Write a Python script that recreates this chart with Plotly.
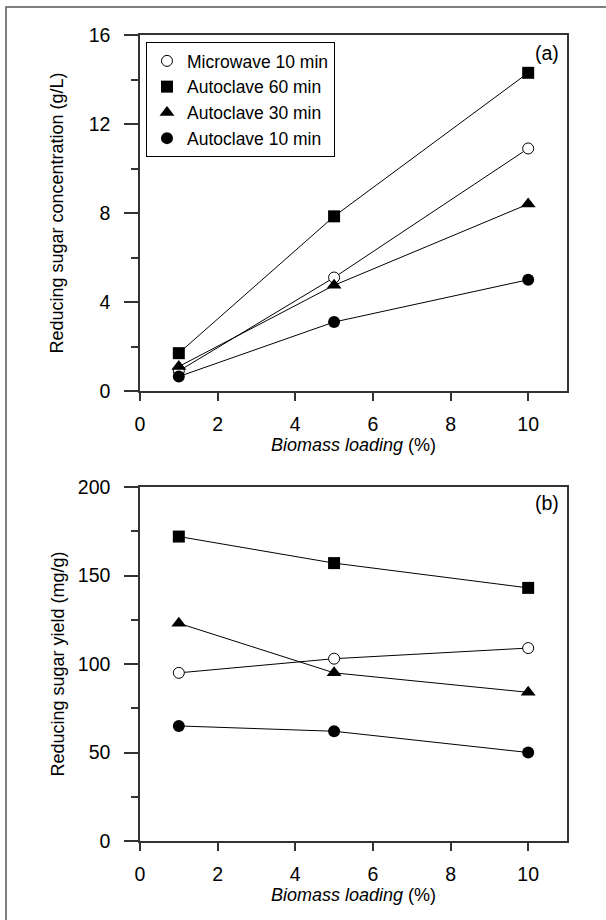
import plotly.graph_objects as go

# ---------------- data ----------------
loading = [1, 5, 10]
series_names = ["Microwave 10 min", "Autoclave 60 min", "Autoclave 30 min", "Autoclave 10 min"]

conc_microwave10 = [0.9, 5.1, 10.9]
conc_autoclave60 = [1.7, 7.85, 14.3]
conc_autoclave30 = [1.1, 4.75, 8.4]
conc_autoclave10 = [0.65, 3.1, 5.0]

yield_microwave10 = [95, 103, 109]
yield_autoclave60 = [172, 157, 143]
yield_autoclave30 = [123, 95, 84]
yield_autoclave10 = [65, 62, 50]

x_ticks = [0, 2, 4, 6, 8, 10]
conc_ticks = [0, 4, 8, 12, 16]
yield_ticks = [0, 50, 100, 150, 200]

# ---------------- styling ----------------
FONT = "Liberation Sans, Arial, sans-serif"
W, H = 606, 920
ML, MR, MT, MB = 140, 39, 35, 79
PH = H - MT - MB
PW = W - ML - MR

def py(pix):  # pixel y -> paper y
    return 1 - (pix - MT) / PH

def px(pix):  # pixel x -> paper x
    return (pix - ML) / PW

styles = [
    dict(symbol="circle", size=11, color="white", line=dict(color="black", width=1)),
    dict(symbol="square", size=12, color="black", line=dict(color="black", width=0)),
    dict(symbol="triangle-up", size=13, color="black", line=dict(color="black", width=0)),
    dict(symbol="circle", size=12, color="black", line=dict(color="black", width=0)),
]

fig = go.Figure()
conc = [conc_microwave10, conc_autoclave60, conc_autoclave30, conc_autoclave10]
yld = [yield_microwave10, yield_autoclave60, yield_autoclave30, yield_autoclave10]

# connecting lines (drawn first, under markers)
for name, vals in zip(series_names, conc):
    fig.add_trace(go.Scatter(x=loading, y=vals, mode="lines", name=name,
                             line=dict(color="black", width=1),
                             xaxis="x", yaxis="y", showlegend=False, hoverinfo="skip"))
for name, vals in zip(series_names, yld):
    fig.add_trace(go.Scatter(x=loading, y=vals, mode="lines", name=name,
                             line=dict(color="black", width=1),
                             xaxis="x2", yaxis="y2", showlegend=False, hoverinfo="skip"))
# markers
for name, vals, st in zip(series_names, conc, styles):
    fig.add_trace(go.Scatter(x=loading, y=vals, mode="markers", name=name, marker=st,
                             xaxis="x", yaxis="y", showlegend=True))
for name, vals, st in zip(series_names, yld, styles):
    fig.add_trace(go.Scatter(x=loading, y=vals, mode="markers", name=name, marker=st,
                             xaxis="x2", yaxis="y2", showlegend=False))

axis_common = dict(showline=True, linecolor="#333333", linewidth=1.5, mirror=True,
                   showgrid=False, zeroline=False, ticks="outside", tickcolor="#333333",
                   tickwidth=1.5, tickfont=dict(family=FONT, size=19.5, color="black"))

xcommon = dict(axis_common, range=[0, 11], tickvals=x_ticks, ticklen=8,
               ticklabelstandoff=7,
               title=dict(text="<i>Biomass loading</i> (%)",
                          font=dict(family=FONT, size=18, color="black"), standoff=3))

fig.update_layout(
    width=W, height=H,
    margin=dict(l=ML, r=MR, t=MT, b=MB),
    paper_bgcolor="white", plot_bgcolor="white",
    font=dict(family=FONT, color="black"),
    xaxis=dict(xcommon, domain=[0, 1], anchor="y"),
    xaxis2=dict(xcommon, domain=[0, 1], anchor="y2"),
    yaxis=dict(axis_common, domain=[py(391), 1], anchor="x", range=[0, 16],
               tickvals=conc_ticks, ticklen=14, ticklabelstandoff=10,
               minor=dict(dtick=2, ticks="outside", ticklen=7, tickcolor="#333333", tickwidth=1.5),
               title=dict(text="Reducing sugar concentration (g/L)",
                          font=dict(family=FONT, size=18, color="black"), standoff=20)),
    yaxis2=dict(axis_common, domain=[0, py(487)], anchor="x2", range=[0, 200],
                tickvals=yield_ticks, ticklen=14, ticklabelstandoff=10,
                minor=dict(dtick=25, ticks="outside", ticklen=7, tickcolor="#333333", tickwidth=1.5),
                title=dict(text="Reducing sugar yield (mg/g)",
                           font=dict(family=FONT, size=18, color="black"), standoff=9)),
    legend=dict(x=px(146), y=py(42), xanchor="left", yanchor="top",
                bordercolor="black", borderwidth=1, bgcolor="white",
                font=dict(family=FONT, size=17.5, color="black"),
                tracegroupgap=0, itemwidth=30),
    showlegend=True,
    annotations=[
        dict(text="(a)", xref="x domain", yref="y domain", x=0.986, y=0.949,
             xanchor="right", yanchor="middle", showarrow=False,
             font=dict(family=FONT, size=19.5, color="black")),
        dict(text="(b)", xref="x2 domain", yref="y2 domain", x=0.986, y=0.955,
             xanchor="right", yanchor="middle", showarrow=False,
             font=dict(family=FONT, size=19.5, color="black")),
    ],
    shapes=[
        dict(type="rect", xref="paper", yref="paper",
             x0=px(6), x1=px(612), y0=py(926), y1=py(7),
             line=dict(color="#555555", width=1.5), fillcolor="rgba(0,0,0,0)", layer="below"),
    ],
)

fig.write_html("out.html")
